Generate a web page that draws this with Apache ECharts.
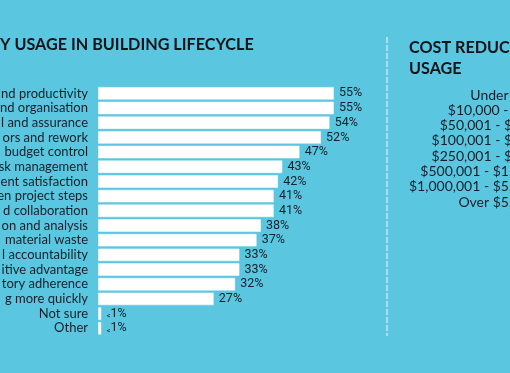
<!DOCTYPE html>
<html><head><meta charset="utf-8">
<script src="https://cdn.jsdelivr.net/npm/echarts@6/dist/echarts.min.js"></script>
<style>html,body{margin:0;padding:0;background:#5BC6E0;}#c{width:510px;height:373px;}</style>
</head><body><div id="c"></div>
<script>
const titleLeft = "Y USAGE IN BUILDING LIFECYCLE";
const titleRight = "COST REDUCTION\nUSAGE";
const categories = ["nd productivity","nd organisation","l and assurance","ors and rework"," budget control","sk management","ent satisfaction","en project steps","d collaboration","on and analysis"," material waste","l accountability","itive advantage","tory adherence","g more quickly","Not sure","Other"];
const values = [55,55,54,52,47,43,42,41,41,38,37,33,33,32,27,0.8,0.8];
const valueLabels = ["55%","55%","54%","52%","47%","43%","42%","41%","41%","38%","37%","33%","33%","32%","27%","<1%","<1%"];
const costCategories = ["Under $10,000","$10,000 - $50,000","$50,001 - $100,000","$100,001 - $250,000","$250,001 - $500,000","$500,001 - $1,000,000","$1,000,001 - $5,000,000","Over $5,000,000","Not sure"];

const costLabels = costCategories.map((t, i) => ({
  type:'text', x:564, y:95 + i*15.3,
  style:{text:t, fontFamily:'Lato', fontSize:14, fill:'#16202a', textAlign:'right', textVerticalAlign:'middle'}
}));

const chart = echarts.init(document.getElementById('c'), null, {renderer:'canvas'});
chart.setOption({
  backgroundColor: '#5BC6E0',
  animation: false,
  grid: [
    {left: 98, top: 86, width: 257.4, height: 249.6, containLabel:false, outerBoundsMode:'none'}
  ],
  xAxis: [
    {gridIndex:0, type:'value', min:0, max:60, show:false}
  ],
  yAxis: [
    {gridIndex:0, type:'category', data:categories, inverse:true,
     axisLine:{show:false}, axisTick:{show:false}, splitLine:{show:false},
     axisLabel:{interval:0, margin:10, fontFamily:'Lato', fontSize:13, color:'#16202a'}}
  ],
  series: [{
    type:'bar', xAxisIndex:0, yAxisIndex:0, data: values,
    barCategoryGap:'12%',
    itemStyle:{color:'#ffffff', borderColor:'rgba(255,255,255,0.5)', borderWidth:1},
    label:{show:true, position:'right', distance:5,
      formatter: p => {
        const t = valueLabels[p.dataIndex];
        return t.startsWith('<') ? '{s|<}{n|' + t.slice(1) + '}' : '{n|' + t + '}';
      },
      rich:{
        n:{fontFamily:'Roboto', fontSize:12.5, color:'#16202a'},
        s:{fontFamily:'Roboto', fontSize:8, color:'#16202a', verticalAlign:'bottom'}
      }
    }
  }],
  graphic: [
    {type:'text', left:0, top:37, style:{text:titleLeft, fontFamily:'Lato', fontWeight:'bold', fontSize:16.2, fill:'#111418'}},
    {type:'text', x:409, y:37, style:{text:titleRight, fontFamily:'Lato', fontWeight:'bold', fontSize:16.2, lineHeight:21, fill:'#111418'}},
    {type:'line', shape:{x1:387, y1:37, x2:387, y2:336}, style:{stroke:'rgba(255,255,255,0.65)', lineWidth:1.5, lineDash:[6,2]}}
  ].concat(costLabels)
});
</script></body></html>
